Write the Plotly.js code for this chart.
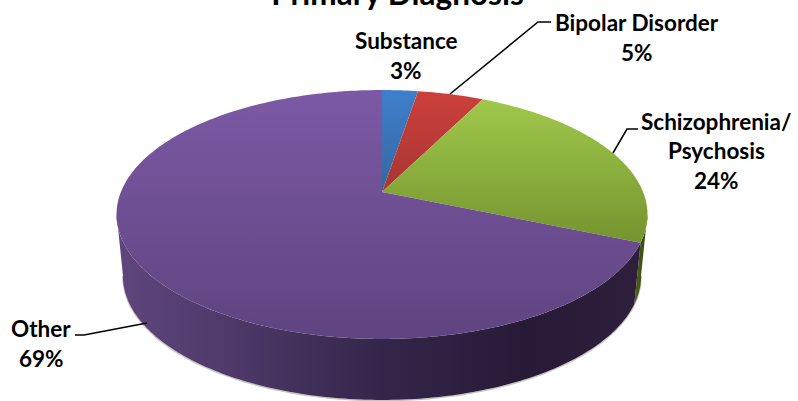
<!DOCTYPE html>
<html><head><meta charset="utf-8">
<script src="https://cdn.plot.ly/plotly-3.0.1.min.js"></script>
<style>html,body{margin:0;padding:0;background:#fff}#c{width:798px;height:401px}</style></head>
<body><div id="c"></div>
<script>
const categories = ["Substance", "Bipolar Disorder", "Schizophrenia/\nPsychosis", "Other"];
const values = [2.6, 4.8, 24, 68.6];
const topColors = [["#3f7fcc", "#34679f"], ["#cc403c", "#a83532"], ["#a0c84c", "#75942e"], ["#7d59a5", "#5f4480"]];
const wallColors = [["#2a4a70", "#2a4a70"], ["#6e2422", "#6e2422"], ["#4c6318", "#33450c"], null];
const purpleWall = [[0, "#5f467e"], [0.22, "#4e3969"], [0.5, "#34264a"], [0.78, "#271a36"], [1, "#2e1f3c"]];

const total = values.reduce((a, b) => a + b, 0);
let run = 0;
const spans = values.map(v => { const s = [run / total * 360, (run + v) / total * 360]; run += v; return s; });

// perspective projection of the pie disc
const X0 = 382, Y0 = 192, A = 85.7, C = -0.1807, D = 261.1;
function rim(t) {
  const r = t * Math.PI / 180, u = Math.sin(r), v = -Math.cos(r), d = 1 + C * v;
  return [X0 + D * u / d, (A * v + Y0) / d];
}
function low(t) { const p = rim(t); return [X0 + (p[0] - X0) * 0.976, 276 + (p[1] - 214.5) * 0.996]; }
function arc(fn, a, b) { const o = []; const n = Math.max(2, Math.ceil(Math.abs(b - a))); for (let i = 0; i <= n; i++) o.push(fn(a + (b - a) * i / n)); return o; }

const traces = [];
function poly(pts, grad) {
  traces.push({ type: "scatter", mode: "none", x: pts.map(p => p[0]), y: pts.map(p => p[1]), fill: "toself", fillgradient: grad, hoverinfo: "skip", showlegend: false });
}
function line(pts, color, width) {
  traces.push({ type: "scatter", mode: "lines", x: pts.map(p => p[0]), y: pts.map(p => p[1]), line: { color, width, shape: "linear" }, hoverinfo: "skip", showlegend: false });
}
// soft shadow under the wall
line(arc(low, 100, 260).map(p => [p[0], p[1] + 0.8]), "rgba(110,110,100,0.4)", 1.5);
// walls
spans.forEach((s, i) => {
  const a = Math.max(s[0], 100), b = Math.min(s[1], 260);
  if (b <= a) return;
  const pts = arc(rim, a, b).concat(arc(low, b, a));
  const scale = wallColors[i] ? [[0, wallColors[i][0]], [1, wallColors[i][1]]] : purpleWall;
  poly(pts, { type: "horizontal", colorscale: scale });
});
// top faces
spans.forEach((s, i) => {
  const pts = [[X0, Y0]].concat(arc(rim, s[0], s[1])); pts.push([X0, Y0]);
  poly(pts, { type: "vertical", colorscale: [[0, topColors[i][1]], [1, topColors[i][0]]] });
});
// leader lines
line([[450, 94], [538, 22], [551, 22]], "#000", 1.5);
line([[613, 153], [627, 129], [638, 129]], "#000", 1.5);
line([[147, 323], [84, 335], [75, 335]], "#000", 1.5);

const pct = values.map(v => Math.round(v / total * 100) + "%");
const place = [[406, 40, 30], [637, 22, 30], [716, 121, 29.5], [41, 328, 30]];
const annotations = [];
categories.forEach((c, i) => {
  c.split("\n").concat([pct[i]]).forEach((t, j) => {
    annotations.push({ x: place[i][0], y: place[i][1] + j * place[i][2], xref: "x", yref: "y", text: t, showarrow: false, xanchor: "center", yanchor: "middle", font: { family: "Lato, sans-serif", size: 22.5, color: "#000", weight: 700 } });
  });
});
const layout = {
  width: 798, height: 401, margin: { l: 0, r: 0, t: 0, b: 0 }, paper_bgcolor: "#fff", plot_bgcolor: "#fff",
  title: { text: "<b>Primary Diagnosis</b>", x: 397.5 / 798, xanchor: "center", y: 0.9875, yanchor: "bottom", font: { family: "Lato, sans-serif", size: 31.5, color: "#000" } },
  xaxis: { range: [0, 798], visible: false, fixedrange: true },
  yaxis: { range: [401, 0], visible: false, fixedrange: true },
  annotations, showlegend: false
};
Plotly.newPlot("c", traces, layout, { displayModeBar: false, staticPlot: true });
</script></body></html>
